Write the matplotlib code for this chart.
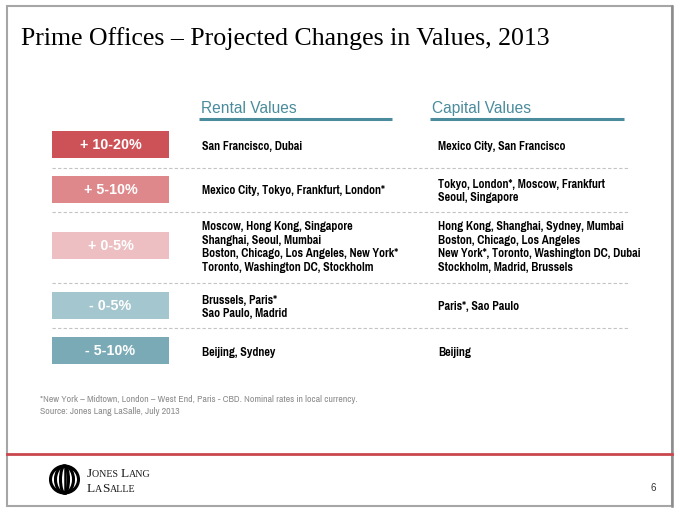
import matplotlib.pyplot as plt
from matplotlib.patches import Rectangle, Ellipse

# data
categories = ["+ 10-20%", "+ 5-10%", "+ 0-5%", "- 0-5%", "- 5-10%"]
rental = [
    ["San Francisco, Dubai"],
    ["Mexico City, Tokyo, Frankfurt, London*"],
    ["Moscow, Hong Kong, Singapore", "Shanghai, Seoul, Mumbai",
     "Boston, Chicago, Los Angeles, New York*", "Toronto, Washington DC, Stockholm"],
    ["Brussels, Paris*", "Sao Paulo, Madrid"],
    ["Beijing, Sydney"],
]
capital = [
    ["Mexico City, San Francisco"],
    ["Tokyo, London*, Moscow, Frankfurt", "Seoul, Singapore"],
    ["Hong Kong, Shanghai, Sydney, Mumbai", "Boston, Chicago, Los Angeles",
     "New York*, Toronto, Washington DC, Dubai", "Stockholm, Madrid, Brussels"],
    ["Paris*, Sao Paulo"],
    ["Beijing"],
]
footnote = "*New York \u2013 Midtown, London \u2013 West End, Paris - CBD. Nominal rates in local currency."
source = "Source: Jones Lang LaSalle, July 2013"

# styles
box_colors = ["#CD5257", "#DE888B", "#EDBFC2", "#A4C6CE", "#79AAB5"]
teal = "#4A8C9C"
narrow = ["Pragati Narrow", "Roboto Condensed", "Liberation Sans", "DejaVu Sans"]
arial = ["Liberation Sans", "DejaVu Sans"]
serif = ["Liberation Serif", "DejaVu Serif"]

fig = plt.figure(figsize=(6.8, 5.13), dpi=100)
ax = fig.add_axes([0, 0, 1, 1])
ax.set_xlim(0, 680)
ax.set_ylim(513, 0)
ax.axis("off")
renderer = fig.canvas.get_renderer()

# slide frame
ax.add_patch(Rectangle((7, 6), 665, 500, fill=False, ec="#A6A6A6", lw=1.5))
ax.plot([672, 672], [6, 506], color="#8C8C8C", lw=1.8)
ax.plot([7, 672], [454, 454], color="#C9474C", lw=2)

ax.text(21, 45, "Prime Offices \u2013 Projected Changes in Values, 2013",
        family=serif, fontsize=18.6, va="baseline", color="black")

# column headers
for x0, x1, label in [(199, 392, "Rental Values"), (430, 624, "Capital Values")]:
    ax.text(x0 + 2, 113, label, family=arial, fontsize=11.2, color=teal, va="baseline")
    ax.plot([x0, x1], [118.5, 118.5], color=teal, lw=2.2, solid_capstyle="butt")

# rows
box_top = [131, 176, 232, 292, 337]
box_h = 27
dash_y = [168, 212, 283, 328]

for i, cat in enumerate(categories):
    y0 = box_top[i]
    yc = y0 + box_h / 2
    ax.add_patch(Rectangle((52, y0), 117, box_h, color=box_colors[i], lw=0))
    ax.text(110.5, yc + 0.5, cat, family=arial, fontsize=10.3, fontweight="bold",
            color="white", ha="center", va="center")
    ax.text(202, yc + 1.5, "\n".join(rental[i]), family=narrow, fontsize=9.4,
            fontweight="bold", color="black", va="center", linespacing=1.28)
    ax.text(438, yc + 1.5, "\n".join(capital[i]), family=narrow, fontsize=9.4,
            fontweight="bold", color="black", va="center", linespacing=1.28)

for y in dash_y:
    ax.plot([52, 628], [y, y], color="#C4C4C4", lw=0.8, ls=(0, (3, 2)))

ax.text(40, 399, footnote, family=narrow, fontsize=7.7, color="#8C8C8C", va="center")
ax.text(40, 411, source, family=narrow, fontsize=7.7, color="#8C8C8C", va="center")

# logo
for w in [28, 18, 8]:
    ax.add_patch(Ellipse((64.5, 479.5), w, 27, fill=False, ec="black", lw=2.2))
ax.plot([64.5, 64.5], [466.5, 492.5], color="black", lw=1.8)


def small_caps(x, y, pieces):
    for s, big in pieces:
        t = ax.text(x, y, s, family=serif, fontsize=9.6 if big else 7.2,
                    va="baseline", color="#1A1A1A")
        x += t.get_window_extent(renderer).width


small_caps(87, 477, [("J", True), ("ONES ", False), ("L", True), ("ANG", False)])
small_caps(87, 492, [("L", True), ("A", False), ("S", True), ("ALLE", False)])

ax.text(653, 488, "6", family=arial, fontsize=7, color="#333333", ha="center", va="center")

fig.savefig("out.png", dpi=100)
